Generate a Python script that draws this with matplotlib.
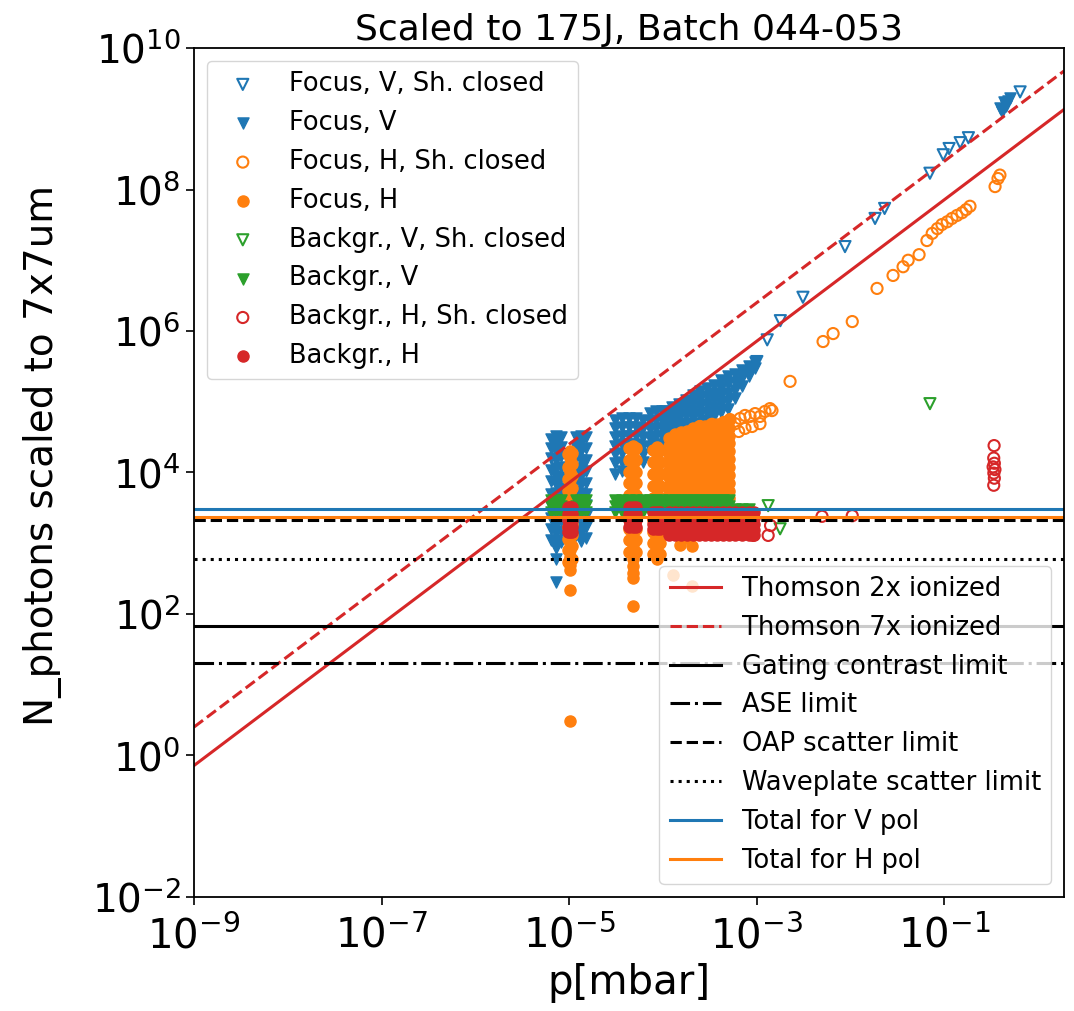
import numpy as np
import matplotlib.pyplot as plt

# colours of the four data groups
c_blue, c_orange, c_green, c_red = '#1f77b4', '#ff7f0e', '#2ca02c', '#d62728'

# ---- Focus, V, shutter closed (open blue triangles)
fv_closed_x = [1.0e-3, 1.29e-3, 1.78e-3, 3.1e-3, 8.7e-3, 1.82e-2, 2.3e-2, 7.0e-2, 9.7e-2, 0.112, 0.147, 0.18, 0.64]
fv_closed_y = [3.7e5, 7.5e5, 1.4e6, 3.0e6, 1.56e7, 3.9e7, 5.4e7, 1.7e8, 3.1e8, 3.8e8, 4.6e8, 5.4e8, 2.4e9]

# ---- Focus, V (filled blue triangles), one list of values per pressure
fv_cols_x = [6.4e-6, 7.2e-6, 8.2e-6, 1.18e-5, 1.34e-5, 1.51e-5,
             3.08e-5, 3.66e-5, 4.35e-5, 5.15e-5, 6.12e-5, 7.26e-5, 8.4e-5, 9.75e-5,
             1.05e-4, 1.25e-4, 1.48e-4, 1.76e-4, 2.09e-4, 2.48e-4, 2.94e-4,
             3.5e-4, 4.15e-4, 4.93e-4, 5.86e-4, 6.95e-4, 8.26e-4, 9.57e-4]
fv_cols_y = [
    [3.0e4, 2.2e4, 1.6e4, 1.1e4, 7.5e3, 5.0e3, 3.4e3, 2.3e3, 1.6e3, 1.1e3],
    [3.3e4, 2.6e4, 2.0e4, 1.5e4, 1.15e4, 8.8e3, 6.8e3, 5.2e3, 4.0e3, 3.1e3, 2.4e3, 1.8e3, 1.4e3, 1.1e3, 8.5e2, 6.0e2, 2.8e2],
    [3.2e4, 2.3e4, 1.7e4, 1.2e4, 8.5e3, 6.0e3, 4.3e3, 3.0e3, 2.1e3, 1.5e3, 1.05e3],
    [3.2e4, 2.3e4, 1.6e4, 1.1e4, 7.8e3, 5.5e3, 3.8e3, 2.6e3, 1.8e3, 1.3e3],
    [3.3e4, 2.6e4, 2.0e4, 1.5e4, 1.15e4, 8.8e3, 6.8e3, 5.2e3, 4.0e3, 3.1e3, 2.4e3, 1.8e3, 1.4e3, 1.06e3],
    [3.2e4, 2.2e4, 1.5e4, 1.05e4, 7.2e3, 5.0e3, 3.5e3, 2.4e3, 1.7e3, 1.2e3],
    [5.5e4, 4.2e4, 3.2e4, 2.4e4, 1.8e4, 1.35e4, 9.5e3],
    [5.8e4, 4.4e4, 3.3e4, 2.5e4, 1.9e4, 1.4e4, 1.05e4],
    [5.8e4, 4.4e4, 3.3e4, 2.5e4],
    [5.8e4, 4.4e4, 3.3e4, 2.5e4],
    [5.6e4, 4.2e4, 3.2e4, 2.4e4, 1.8e4, 1.4e4],
    [7.0e4, 5.4e4, 4.1e4, 3.1e4, 2.3e4],
    [7.3e4, 5.6e4, 4.3e4, 3.3e4, 2.5e4],
    [7.3e4, 5.6e4, 4.3e4, 3.3e4],
    [7.3e4, 5.8e4, 4.6e4, 3.7e4, 3.0e4, 2.5e4],
    [8.3e4, 6.5e4, 5.1e4, 4.0e4, 3.2e4, 2.7e4],
    [9.4e4, 7.4e4, 5.8e4, 4.5e4, 3.6e4, 3.0e4],
    [1.07e5, 8.3e4, 6.5e4, 5.0e4, 4.0e4, 3.3e4],
    [1.23e5, 9.5e4, 7.4e4, 5.8e4, 4.5e4, 3.8e4],
    [1.4e5, 1.08e5, 8.3e4, 6.4e4, 5.0e4, 4.2e4],
    [1.55e5, 1.2e5, 9.3e4, 7.2e4, 5.6e4, 4.9e4],
    [1.74e5, 1.35e5, 1.05e5, 8.1e4, 6.2e4],
    [2.0e5, 1.55e5, 1.2e5, 9.2e4, 7.1e4],
    [2.3e5, 1.78e5, 1.35e5, 1.04e5, 8.0e4],
    [2.5e5, 1.9e5, 1.45e5, 1.12e5],
    [2.85e5, 2.2e5, 1.66e5],
    [3.2e5, 2.6e5, 2.3e5],
    [3.6e5, 3.0e5],
]
fv_high_x = [0.39, 0.41, 0.43, 0.45, 0.48, 0.5]
fv_high_y = [1.4e9, 1.26e9, 1.7e9, 1.5e9, 1.8e9, 1.94e9]

# ---- Focus, H, shutter closed (open orange circles)
fh_closed_x = [2.48e-4, 2.87e-4, 3.33e-4, 3.85e-4, 4.47e-4, 4.93e-4, 5.17e-4, 5.86e-4, 6.4e-4, 6.62e-4,
               7.48e-4, 7.48e-4, 8.47e-4, 8.9e-4, 9.57e-4, 1.08e-3, 1.08e-3, 1.22e-3, 1.38e-3, 1.45e-3,
               2.26e-3, 5.08e-3, 6.5e-3, 1.04e-2, 1.91e-2, 2.83e-2, 3.62e-2, 4.1e-2, 5.36e-2, 6.5e-2,
               7.4e-2, 8.4e-2, 9.4e-2, 0.107, 0.12, 0.136, 0.154, 0.17, 0.187,
               0.346, 0.372, 0.39]
fh_closed_y = [4.47e4, 4.2e4, 4.8e4, 4.47e4, 5.1e4, 4.2e4, 5.6e4, 4.9e4, 3.8e4, 5.8e4,
               6.4e4, 4.2e4, 6.2e4, 4.47e4, 6.8e4, 6.2e4, 4.9e4, 7.3e4, 8.0e4, 7.5e4,
               1.94e5, 7.1e5, 9.2e5, 1.36e6, 4.0e6, 6.1e6, 8.1e6, 1.0e7, 1.2e7, 1.9e7,
               2.4e7, 2.8e7, 3.2e7, 3.5e7, 3.9e7, 4.3e7, 4.7e7, 5.2e7, 5.8e7,
               1.1e8, 1.43e8, 1.6e8]

# ---- Focus, H (filled orange circles)
fh_cols_x = [9.7e-6, 1.02e-5, 1.07e-5, 4.35e-5, 4.79e-5, 5.15e-5, 7.8e-5, 8.63e-5, 9.3e-5,
             1.16e-4, 1.34e-4, 1.56e-4, 1.80e-4, 2.09e-4, 2.42e-4, 2.81e-4, 3.25e-4, 3.77e-4, 4.37e-4, 5.06e-4]
fh_cols_y = [
    [1.8e4, 1.2e4, 8.0e3, 5.5e3, 3.7e3, 2.5e3, 1.7e3, 1.15e3, 8.0e2, 5.5e2],
    [2.0e4, 1.6e4, 1.26e4, 1.0e4, 7.9e3, 6.3e3, 5.0e3, 4.0e3, 3.2e3, 2.5e3, 2.0e3, 1.6e3, 1.26e3, 1.0e3, 7.9e2, 6.3e2, 5.0e2, 4.2e2, 2.15e2, 3.1],
    [1.9e4, 1.3e4, 8.8e3, 6.0e3, 4.1e3, 2.8e3, 1.9e3, 1.3e3, 9.0e2, 6.0e2],
    [2.2e4, 1.5e4, 1.0e4, 7.0e3, 4.8e3, 3.3e3, 2.3e3, 1.6e3, 1.1e3, 7.5e2],
    [2.4e4, 1.9e4, 1.5e4, 1.2e4, 9.5e3, 7.6e3, 6.0e3, 4.8e3, 3.8e3, 3.0e3, 2.4e3, 1.9e3, 1.5e3, 1.2e3, 9.5e2, 7.6e2, 6.0e2, 4.8e2, 3.8e2, 3.2e2, 1.28e2],
    [2.2e4, 1.5e4, 1.0e4, 7.0e3, 4.8e3, 3.3e3, 2.3e3, 1.6e3, 1.1e3, 7.5e2],
    [2.1e4, 1.4e4, 9.5e3, 6.5e3, 4.4e3, 3.0e3, 2.1e3, 1.45e3, 1.0e3, 7.0e2],
    [2.3e4, 1.8e4, 1.45e4, 1.15e4, 9.2e3, 7.3e3, 5.8e3, 4.6e3, 3.7e3, 2.9e3, 2.3e3, 1.8e3, 1.45e3, 1.15e3, 9.2e2, 7.3e2, 6.0e2],
    [2.1e4, 1.4e4, 9.5e3, 6.5e3, 4.4e3, 3.0e3, 2.1e3, 1.45e3, 1.0e3, 7.0e2],
    [3.1e4, 2.4e4, 1.85e4, 1.45e4, 1.1e4, 8.7e3, 6.7e3, 5.2e3, 4.0e3, 3.1e3, 2.4e3, 1.85e3, 1.45e3],
    [3.5e4, 2.7e4, 2.1e4, 1.6e4, 1.25e4, 9.7e3, 7.5e3, 5.8e3, 4.5e3, 3.5e3, 2.7e3, 2.1e3, 1.6e3],
    [3.7e4, 2.9e4, 2.2e4, 1.7e4, 1.3e4, 1.0e4, 8.0e3, 6.2e3, 4.8e3, 3.7e3, 2.9e3, 2.2e3, 1.7e3],
    [3.9e4, 3.0e4, 2.3e4, 1.8e4, 1.4e4, 1.1e4, 8.4e3, 6.5e3, 5.0e3, 3.9e3, 3.0e3, 2.3e3, 1.8e3, 1.4e3],
    [4.2e4, 3.2e4, 2.5e4, 1.9e4, 1.5e4, 1.15e4, 9.0e3, 7.0e3, 5.4e3, 4.2e3, 3.2e3, 2.5e3, 1.9e3, 1.5e3],
    [4.5e4, 3.5e4, 2.7e4, 2.1e4, 1.6e4, 1.25e4, 9.7e3, 7.5e3, 5.8e3, 4.5e3, 3.5e3, 2.7e3, 2.1e3, 1.6e3],
    [4.6e4, 3.6e4, 2.8e4, 2.2e4, 1.7e4, 1.3e4, 1.0e4, 7.8e3, 6.0e3, 4.6e3, 3.6e3, 2.8e3, 2.2e3, 1.7e3],
    [4.8e4, 3.7e4, 2.9e4, 2.2e4, 1.7e4, 1.3e4, 1.0e4, 8.0e3, 6.2e3, 4.8e3, 3.7e3, 2.9e3, 2.2e3, 1.7e3],
    [4.9e4, 3.8e4, 2.9e4, 2.3e4, 1.8e4, 1.4e4, 1.05e4, 8.2e3, 6.3e3, 4.9e3, 3.8e3, 2.9e3, 2.3e3, 1.8e3],
    [5.2e4, 4.0e4, 3.1e4, 2.4e4, 1.85e4, 1.45e4, 1.1e4, 8.6e3, 6.6e3, 5.2e3, 4.0e3, 3.1e3, 2.4e3, 1.85e3],
    [5.6e4, 4.3e4, 3.3e4, 2.6e4, 2.0e4, 1.55e4, 1.2e4, 9.2e3, 7.1e3, 5.5e3, 4.3e3, 3.3e3, 2.6e3, 2.0e3],
]
fh_low_x = [1.52e-4, 2.04e-4, 1.8e-4, 1.28e-4, 2.04e-4]
fh_low_y = [9.3e2, 9.0e2, 1.17e3, 3.5e2, 2.45e2]

# ---- Background, V, shutter closed (open green triangles)
bv_closed_x = [1.32e-3, 1.77e-3, 7.0e-2]
bv_closed_y = [3.4e3, 1.6e3, 9.4e4]

# ---- Background, V (filled green triangles)
bv_cols_x = [6.4e-6, 7.2e-6, 8.2e-6, 1.18e-5, 1.34e-5, 1.51e-5,
             3.08e-5, 3.66e-5, 4.35e-5, 5.15e-5, 6.12e-5, 7.26e-5, 8.4e-5, 9.75e-5,
             1.16e-4, 1.34e-4, 1.56e-4, 1.80e-4, 2.09e-4, 2.42e-4, 2.81e-4, 3.25e-4,
             3.77e-4, 4.37e-4, 5.06e-4, 5.86e-4, 6.95e-4, 8.26e-4]
bv_cols_y = [[4.1e3, 3.4e3, 2.8e3]] * 25 + [[3.0e3, 2.7e3]] * 3

# ---- Background, H, shutter closed (open red circles)
bh_closed_x = [0.338, 0.335, 0.34, 0.33, 0.345, 0.336, 0.34, 0.335,
               1.04e-2, 4.95e-3, 3.33e-4, 6.15e-4, 9.1e-4, 1.32e-3, 1.4e-3]
bh_closed_y = [2.4e4, 1.6e4, 1.35e4, 1.2e4, 1.1e4, 9.8e3, 8.3e3, 6.6e3,
               2.45e3, 2.4e3, 1.47e3, 1.47e3, 1.29e3, 1.29e3, 1.78e3]

# ---- Background, H (filled red circles)
bh_cols_x = [9.8e-6, 1.02e-5, 1.07e-5, 4.35e-5, 4.79e-5, 5.15e-5, 7.8e-5, 8.63e-5, 9.3e-5,
             1.16e-4, 1.34e-4, 1.56e-4, 1.80e-4, 2.09e-4, 2.42e-4, 2.81e-4, 3.25e-4,
             3.77e-4, 4.37e-4, 5.06e-4, 5.86e-4, 6.95e-4, 8.26e-4, 9.3e-4]
bh_cols_y = ([[3.2e3, 2.6e3, 2.1e3, 1.7e3, 1.45e3]] * 3 + [[3.2e3, 2.6e3, 2.1e3, 1.7e3]] * 3
             + [[2.8e3, 2.3e3, 1.9e3, 1.6e3]] * 3 + [[2.8e3, 2.3e3, 1.9e3, 1.55e3, 1.3e3]] * 15)

# ---- model lines
thomson_per_electron = 3.6e8   # photons per mbar per free electron
ionization = [2, 7]
limit_gating = 68
limit_ase = 20
limit_oap = 2100
limit_waveplate = 590
total_v = 3000
total_h = 2350

x_ticks = [1e-9, 1e-7, 1e-5, 1e-3, 1e-1]
y_ticks = [1e-2, 1e0, 1e2, 1e4, 1e6, 1e8, 1e10]


def flatten(cols_x, cols_y):
    xs, ys = [], []
    for x, col in zip(cols_x, cols_y):
        xs += [x] * len(col)
        ys += list(col)
    return xs, ys


fig = plt.figure(figsize=(10.74, 10.11), dpi=100)
ax = fig.add_axes([0.1806, 0.1128, 0.8101, 0.8397])
ax.set_xscale('log')
ax.set_yscale('log')

ms = 64
fvx, fvy = flatten(fv_cols_x, fv_cols_y)
fhx, fhy = flatten(fh_cols_x, fh_cols_y)
bvx, bvy = flatten(bv_cols_x, bv_cols_y)
bhx, bhy = flatten(bh_cols_x, bh_cols_y)

h1 = ax.scatter(fv_closed_x, fv_closed_y, s=ms, marker='v', facecolors='none', edgecolors=c_blue, linewidths=1.5, label='Focus, V, Sh. closed')
h2 = ax.scatter(fvx + fv_high_x, fvy + fv_high_y, s=ms, marker='v', color=c_blue, label='Focus, V')
h3 = ax.scatter(fh_closed_x, fh_closed_y, s=ms, marker='o', facecolors='none', edgecolors=c_orange, linewidths=1.5, label='Focus, H, Sh. closed')
h4 = ax.scatter(fhx + fh_low_x, fhy + fh_low_y, s=ms, marker='o', color=c_orange, label='Focus, H')
h5 = ax.scatter(bv_closed_x, bv_closed_y, s=ms, marker='v', facecolors='none', edgecolors=c_green, linewidths=1.5, label='Backgr., V, Sh. closed')
h6 = ax.scatter(bvx, bvy, s=ms, marker='v', color=c_green, label='Backgr., V')
h7 = ax.scatter(bh_closed_x, bh_closed_y, s=ms, marker='o', facecolors='none', edgecolors=c_red, linewidths=1.5, label='Backgr., H, Sh. closed')
h8 = ax.scatter(bhx, bhy, s=ms, marker='o', color=c_red, label='Backgr., H')

xlim = (1e-9, 1.88)
p = np.array(xlim)
lw = 2.2
l1, = ax.plot(p, thomson_per_electron * ionization[0] * p, '-', color=c_red, lw=lw, label='Thomson 2x ionized')
l2, = ax.plot(p, thomson_per_electron * ionization[1] * p, '--', color=c_red, lw=lw, label='Thomson 7x ionized')
l3 = ax.axhline(limit_gating, color='black', ls='-', lw=lw, label='Gating contrast limit')
l4 = ax.axhline(limit_ase, color='black', ls='-.', lw=lw, label='ASE limit')
l5 = ax.axhline(limit_oap, color='black', ls='--', lw=lw, label='OAP scatter limit')
l6 = ax.axhline(limit_waveplate, color='black', ls=':', lw=lw, label='Waveplate scatter limit')
l7 = ax.axhline(total_v, color=c_blue, ls='-', lw=lw, label='Total for V pol')
l8 = ax.axhline(total_h, color=c_orange, ls='-', lw=lw, label='Total for H pol')

ax.set_xlim(*xlim)
ax.set_ylim(1e-2, 1e10)
ax.set_xticks(x_ticks)
ax.set_yticks(y_ticks)
ax.minorticks_off()
ax.tick_params(labelsize=29, length=6, width=1.2)
ax.tick_params(axis='x', pad=8)
ax.tick_params(axis='y', labelsize=28)
for sp in ax.spines.values():
    sp.set_linewidth(1.3)

ax.set_title('Scaled to 175J, Batch 044-053', fontsize=26)
ax.set_xlabel('p[mbar]', fontsize=29)
ax.set_ylabel('N_photons scaled to 7x7um', fontsize=28)
ax.yaxis.set_label_coords(-0.152, 0.52)

leg1 = ax.legend(handles=[h1, h2, h3, h4, h5, h6, h7, h8], loc='upper left', fontsize=18.5, labelspacing=0.5)
ax.add_artist(leg1)
ax.legend(handles=[l1, l2, l3, l4, l5, l6, l7, l8], loc='lower right', fontsize=18.5, labelspacing=0.5)

plt.savefig('out.png', dpi=100)
